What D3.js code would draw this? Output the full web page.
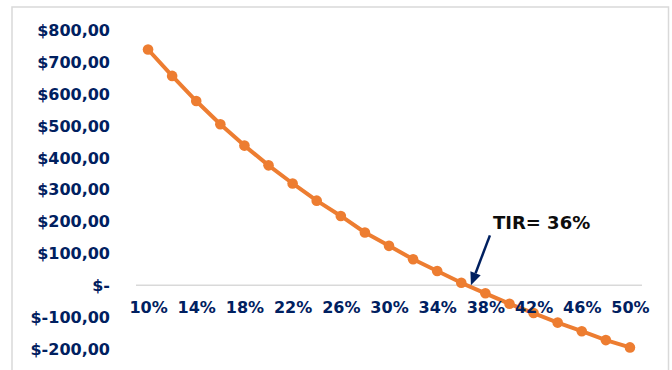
<!DOCTYPE html>
<html>
<head>
<meta charset="utf-8">
<script src="https://cdn.jsdelivr.net/npm/d3@7"></script>
<style>
  html, body { margin: 0; padding: 0; background: #fff; }
  svg { display: block; }
  text { font-family: "DejaVu Sans", sans-serif; font-weight: bold; }
</style>
</head>
<body>
<svg id="chart" width="672" height="370"></svg>
<script>
// Discount rates and the net present value at each rate
const rates = ["10%","12%","14%","16%","18%","20%","22%","24%","26%","28%","30%",
               "32%","34%","36%","38%","40%","42%","44%","46%","48%","50%"];
const npv = [741, 658, 579, 506, 439, 377, 320, 266, 218, 166, 124,
             82, 45, 8, -25, -58, -87, -117, -144, -172, -195];
const xTickLabels = ["10%","14%","18%","22%","26%","30%","34%","38%","42%","46%","50%"];
const yTicks = [-200, -100, 0, 100, 200, 300, 400, 500, 600, 700, 800];
const irrLabel = "TIR= 36%";
const irrRate = "36%";

const navy = "#002060";
const orange = "#ED7D31";

const svg = d3.select("#chart");

// Chart frame
svg.append("rect")
  .attr("x", 12).attr("y", 7)
  .attr("width", 656.5).attr("height", 380)
  .attr("fill", "#fff")
  .attr("stroke", "#d9d9d9").attr("stroke-width", 1.5);

const x = d3.scalePoint().domain(rates).range([136, 642]).padding(0.5);
const y = d3.scaleLinear().domain([-200, 800]).range([349, 30.7]);

// Accounting-style money labels with a comma decimal separator
const fmtMoney = v => {
  if (v === 0) return "$-";
  const s = Math.abs(v).toFixed(2).replace(".", ",");
  return v < 0 ? "$-" + s : "$" + s;
};

const styleLabels = sel => sel
  .attr("fill", navy)
  .style("font-size", "16px")
  .style("font-family", "'DejaVu Sans', sans-serif")
  .style("font-weight", "bold");

// Value axis labels
const yAxis = svg.append("g")
  .attr("transform", "translate(112,0)")
  .call(d3.axisLeft(y).tickValues(yTicks).tickSize(0).tickPadding(2).tickFormat(fmtMoney));
yAxis.select(".domain").remove();
yAxis.selectAll("text").call(styleLabels);

// Zero line
svg.append("line")
  .attr("x1", x.range()[0]).attr("x2", x.range()[1])
  .attr("y1", y(0)).attr("y2", y(0))
  .attr("stroke", "#d9d9d9").attr("stroke-width", 1.5);

// NPV line and markers
const data = rates.map((r, i) => ({ r, v: npv[i] }));
svg.append("path")
  .datum(data)
  .attr("fill", "none")
  .attr("stroke", orange)
  .attr("stroke-width", 4)
  .attr("stroke-linejoin", "round")
  .attr("d", d3.line().x(d => x(d.r)).y(d => y(d.v)));

svg.append("g").selectAll("circle")
  .data(data)
  .join("circle")
  .attr("cx", d => x(d.r))
  .attr("cy", d => y(d.v))
  .attr("r", 5.3)
  .attr("fill", orange);

// Category axis labels, drawn above the series
const xAxis = svg.append("g")
  .attr("transform", "translate(0,302)")
  .call(d3.axisBottom(x).tickValues(xTickLabels).tickSize(0).tickPadding(0));
xAxis.select(".domain").remove();
xAxis.selectAll("text").call(styleLabels);

// IRR annotation: arrow pointing at the zero crossing
const tipX = x(irrRate) + x.step() * 0.4;
const tipY = y(0);
const startX = tipX + 19, startY = tipY - 50;
const ang = Math.atan2(tipY - startY, tipX - startX);
const headLen = 13, headHalf = 5.5;
const bx = tipX - headLen * Math.cos(ang), by = tipY - headLen * Math.sin(ang);
svg.append("line")
  .attr("x1", startX).attr("y1", startY)
  .attr("x2", bx).attr("y2", by)
  .attr("stroke", navy).attr("stroke-width", 2.5);
svg.append("path")
  .attr("d", d3.line()([
    [tipX, tipY],
    [bx + headHalf * Math.sin(ang), by - headHalf * Math.cos(ang)],
    [bx - headHalf * Math.sin(ang), by + headHalf * Math.cos(ang)]
  ]) + "Z")
  .attr("fill", navy);

svg.append("text")
  .attr("x", startX + 3).attr("y", startY - 6)
  .attr("fill", "#0d0d0d")
  .style("font-size", "18px")
  .text(irrLabel);
</script>
</body>
</html>
